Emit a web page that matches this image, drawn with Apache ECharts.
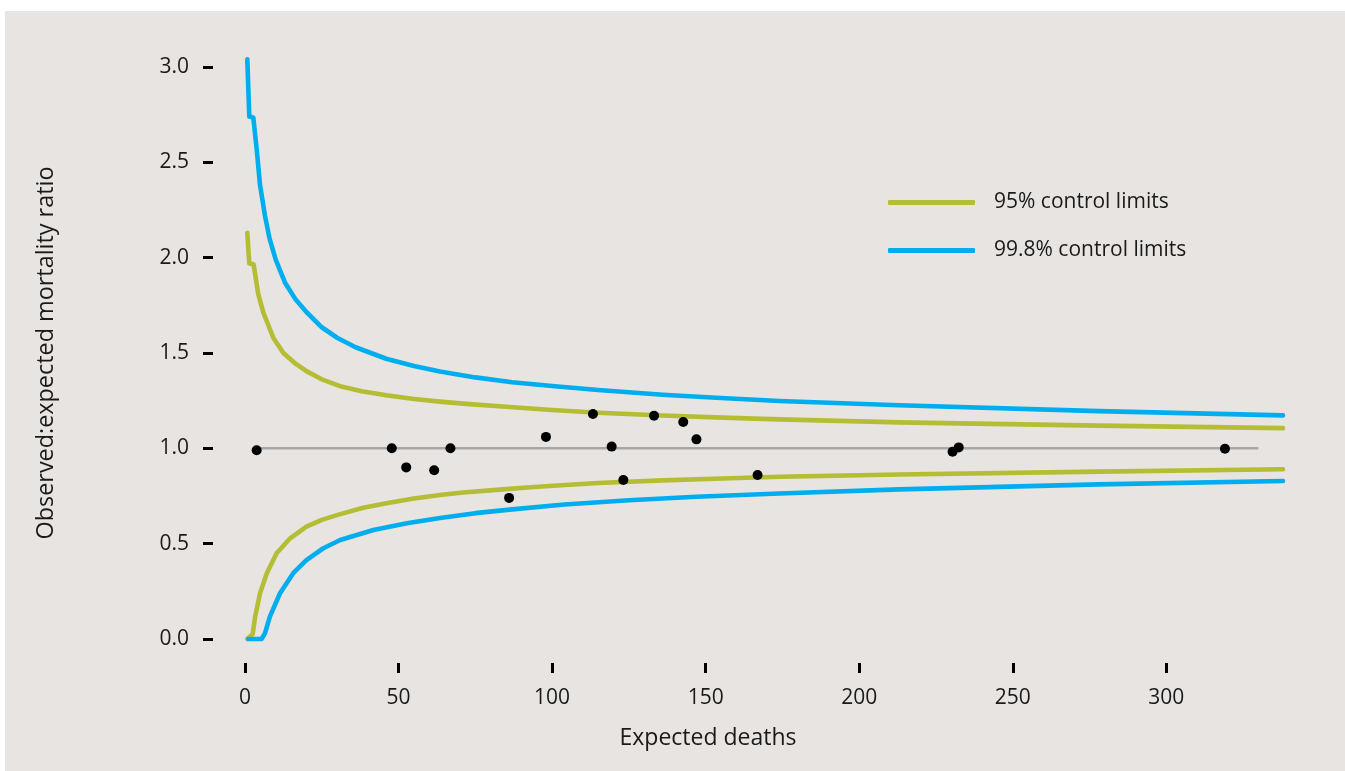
<!DOCTYPE html>
<html><head><meta charset="utf-8">
<script src="https://cdn.jsdelivr.net/npm/echarts@6/dist/echarts.min.js"></script>
<style>html,body{margin:0;padding:0;background:#ffffff;}#c{position:absolute;left:5px;top:11px;width:1340px;height:760px;}</style>
</head><body><div id="c"></div>
<script>
// Tick values
const xTicks = [0, 50, 100, 150, 200, 250, 300];
const yTicks = [0, 0.5, 1, 1.5, 2, 2.5, 3];

// Hospitals: expected deaths and observed:expected ratio
const expectedDeaths = [3.8, 47.8, 52.5, 61.6, 66.9, 86.0, 98.0, 113.3, 119.4, 123.2, 133.2, 142.7, 147.0, 166.9, 230.4, 232.4, 319.1];
const oeRatio        = [0.99, 1.0, 0.90, 0.885, 1.0, 0.74, 1.06, 1.18, 1.009, 0.834, 1.171, 1.138, 1.047, 0.86, 0.982, 1.005, 0.998];

// Reference line (ratio = 1)
const refLine = [[3.8, 1], [330, 1]];

// 95% control limits
const upper95 = [[0.75,2.13],[1.4,1.97],[2.8,1.965],[4.3,1.81],[6,1.71],[7.5,1.65],[9.2,1.58],[12.5,1.5],[16,1.45],[20,1.405],[25,1.362],[31,1.326],[38,1.299],[46,1.278],[55,1.259],[63.5,1.245],[72,1.233],[85,1.218],[100,1.201],[115,1.187],[136,1.172],[158,1.16],[174,1.152],[213,1.136],[278,1.119],[338,1.106]];
const lower95 = [[0.75,0],[2.5,0.026],[3.3,0.117],[4.9,0.24],[7.1,0.345],[10.3,0.45],[14.7,0.528],[20,0.589],[25,0.625],[31,0.655],[38.5,0.688],[46,0.712],[55,0.737],[63.5,0.755],[71,0.768],[85,0.786],[93,0.796],[103,0.806],[115,0.818],[136,0.832],[158,0.843],[174,0.851],[213,0.863],[278,0.878],[338,0.89]];

// 99.8% control limits
const upper998 = [[0.75,3.04],[1.4,2.74],[2.7,2.735],[3.8,2.57],[4.9,2.38],[6.5,2.22],[8,2.1],[10,1.99],[13,1.87],[16.5,1.78],[20,1.715],[25,1.635],[30,1.58],[36,1.53],[46,1.47],[55,1.432],[63.5,1.403],[75,1.372],[87,1.347],[100,1.327],[115,1.306],[136,1.281],[155,1.264],[174,1.248],[213,1.226],[278,1.195],[338,1.173]];
const lower998 = [[1.1,0],[5.4,0],[6.5,0.03],[8.1,0.117],[11.4,0.24],[15.7,0.345],[20,0.414],[25.5,0.476],[31,0.519],[41.8,0.572],[52.7,0.607],[63.5,0.635],[75,0.66],[87,0.68],[104,0.705],[125,0.728],[147,0.746],[174,0.763],[213,0.785],[278,0.811],[338,0.829]];

const GREEN = '#b5bd34';
const BLUE = '#00aeef';
const FONT = '"Open Sans", sans-serif';

const chart = echarts.init(document.getElementById('c'), null, {renderer: 'canvas'});

function limitSeries(name, data, color) {
  return {
    name: name, type: 'line', data: data, showSymbol: false, symbol: 'none',
    clip: false, silent: true, z: 3,
    lineStyle: {color: color, width: 4.6, cap: 'round', join: 'round'},
    itemStyle: {color: color}
  };
}

chart.setOption({
  animation: false,
  backgroundColor: '#e8e4e1',
  textStyle: {fontFamily: FONT},
  grid: {left: 240, right: 62, top: 56, bottom: 132, containLabel: false},
  legend: {
    orient: 'vertical', left: 878, top: 176,
    icon: 'roundRect', itemWidth: 87, itemHeight: 5, itemGap: 27,
    data: ['95% control limits', '99.8% control limits'],
    textStyle: {fontFamily: FONT, fontSize: 21, color: '#1a1a1a', padding: [0, 0, 0, 14]},
    selectedMode: false
  },
  xAxis: {
    type: 'value', min: 0, max: 338, interval: 50, offset: 24,
    name: 'Expected deaths', nameLocation: 'middle', nameGap: 64,
    nameTextStyle: {fontFamily: FONT, fontSize: 23, color: '#1a1a1a', padding: [0, 112, 0, 0]},
    axisLine: {show: false, onZero: false},
    axisTick: {show: true, length: 10, customValues: xTicks, lineStyle: {color: '#000', width: 3}},
    axisLabel: {customValues: xTicks, margin: 25, fontFamily: FONT, fontSize: 21, color: '#1a1a1a'},
    splitLine: {show: false}
  },
  yAxis: {
    type: 'value', min: 0, max: 3, interval: 0.5, offset: 32,
    name: 'Observed:expected mortality ratio', nameLocation: 'middle', nameGap: 155,
    nameTextStyle: {fontFamily: FONT, fontSize: 23.4, color: '#1a1a1a'},
    axisLine: {show: false, onZero: false},
    axisTick: {show: true, length: 10, customValues: yTicks, lineStyle: {color: '#000', width: 3}},
    axisLabel: {customValues: yTicks, margin: 24, fontFamily: FONT, fontSize: 21, color: '#1a1a1a',
      formatter: function (v) { return Number(v).toFixed(1); }},
    splitLine: {show: false}
  },
  series: [
    {
      name: 'ref', type: 'line', data: refLine, showSymbol: false, symbol: 'none', silent: true, z: 2,
      lineStyle: {color: '#a7a7a9', width: 2.5}
    },
    limitSeries('95% control limits', upper95, GREEN),
    limitSeries('95% control limits', lower95, GREEN),
    limitSeries('99.8% control limits', upper998, BLUE),
    limitSeries('99.8% control limits', lower998, BLUE),
    {
      name: 'hospitals', type: 'scatter', z: 5, symbolSize: 10, silent: true,
      data: expectedDeaths.map(function (x, i) { return [x, oeRatio[i]]; }),
      itemStyle: {color: '#000000', opacity: 1}
    }
  ]
});
</script>
</body></html>
